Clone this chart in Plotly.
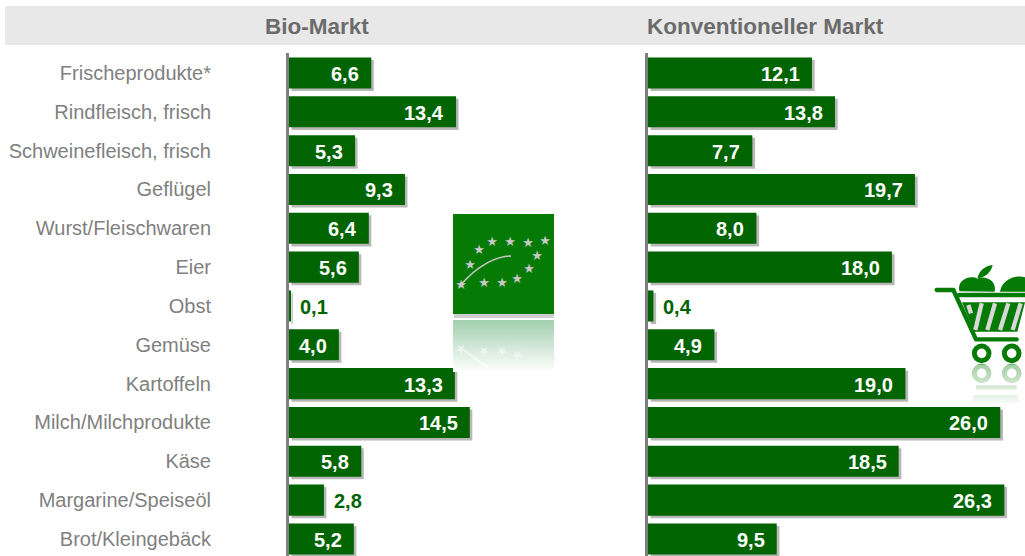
import base64
import plotly.graph_objects as go

categories = ["Frischeprodukte*", "Rindfleisch, frisch", "Schweinefleisch, frisch", "Geflügel",
              "Wurst/Fleischwaren", "Eier", "Obst", "Gemüse", "Kartoffeln",
              "Milch/Milchprodukte", "Käse", "Margarine/Speiseöl", "Brot/Kleingebäck"]
bio_values = [6.6, 13.4, 5.3, 9.3, 6.4, 5.6, 0.1, 4.0, 13.3, 14.5, 5.8, 2.8, 5.2]
conv_values = [12.1, 13.8, 7.7, 19.7, 8.0, 18.0, 0.4, 4.9, 19.0, 26.0, 18.5, 26.3, 9.5]
titles = ["Bio-Markt", "Konventioneller Markt"]

W, H = 1025, 556
GREEN = "#006400"
FONT = "Liberation Sans Narrow, Arial Narrow, Liberation Sans, sans-serif"


def uri(svg):
    return "data:image/svg+xml;base64," + base64.b64encode(svg.encode()).decode()


def star(x, y, r=5.0, c="#c8c8c8"):
    return f'<text x="{x}" y="{y + r * 0.75}" font-size="{r * 2.6}" text-anchor="middle" fill="{c}" font-family="DejaVu Sans">★</text>'


star_pos = [(92, 27), (75, 29), (57, 28), (39, 28), (26, 36), (17, 51), (8, 71),
            (31, 69), (49, 69), (64, 65), (76, 55), (84, 42)]
leaf = "".join(star(x, y) for x, y in star_pos) + \
    '<path d="M6,73 C25,50 45,42 58,42" fill="none" stroke="#c8c8c8" stroke-width="1.6"/>'
logo_svg = f'''<svg xmlns="http://www.w3.org/2000/svg" width="101" height="165" viewBox="0 0 101 165">
<defs><linearGradient id="g" x1="0" y1="0" x2="0" y2="1"><stop offset="0" stop-color="#fff" stop-opacity=".45"/>
<stop offset="1" stop-color="#fff" stop-opacity="1"/></linearGradient></defs>
<rect x="1" y="99" width="100" height="5" fill="#cfcfcf"/>
<rect x="0" y="0" width="101" height="100" fill="#057a05"/>{leaf}
<g transform="translate(0,206) scale(1,-1)"><rect x="0" y="50" width="101" height="50" fill="#1d8a3a" opacity=".75"/>
<g opacity=".5"><path d="M6,73 C25,60 30,55 40,50" fill="none" stroke="#fff" stroke-width="2"/>{"".join(star(x, y, c="#fff") for x, y in star_pos[6:10])}</g></g>
<rect x="0" y="106" width="101" height="52" fill="url(#g)"/>
</svg>'''

cart_shape = '''<path d="M110,120 H160 L228,268 H350 M178,135 H375" fill="none" stroke="#057a05" stroke-width="13" stroke-linecap="round" stroke-linejoin="round"/>
<path d="M186,157 H375 L352,245 H222 Z" fill="#057a05"/>
<g stroke="#d8d8d8" stroke-width="13"><path d="M205,165 L213,190"/><path d="M245,160 L226,240"/><path d="M285,160 L262,240"/><path d="M325,160 L300,240"/><path d="M362,160 L338,240"/></g>
<circle cx="245" cy="310" r="22" fill="#fff" stroke="#057a05" stroke-width="15"/>
<circle cx="335" cy="310" r="22" fill="#fff" stroke="#057a05" stroke-width="15"/>'''
fruit = '''<path d="M178,124 C170,85 215,75 232,86 C250,75 292,88 284,125 Z" fill="#057a05"/>
<path d="M232,85 C238,60 255,48 278,45 C272,70 255,82 232,85 Z" fill="#057a05"/>
<path d="M300,125 C305,90 345,72 375,82 V125 Z" fill="#057a05"/>'''
cart_svg = f'''<svg xmlns="http://www.w3.org/2000/svg" width="125" height="170" viewBox="0 0 375 510">
<defs><linearGradient id="f" x1="0" y1="0" x2="0" y2="1"><stop offset="0" stop-color="#fff" stop-opacity=".35"/>
<stop offset="1" stop-color="#fff" stop-opacity="1"/></linearGradient></defs>
{fruit}{cart_shape}
<g transform="translate(0,680) scale(1,-1)" opacity=".55"><path d="M228,268 H350" stroke="#057a05" stroke-width="13"/>
<circle cx="245" cy="310" r="22" fill="#fff" stroke="#057a05" stroke-width="15"/>
<circle cx="335" cy="310" r="22" fill="#fff" stroke="#057a05" stroke-width="15"/>
<path d="M186,157 H375 L352,245 H222 Z" fill="#057a05"/></g>
<rect x="200" y="345" width="175" height="125" fill="url(#f)"/>
<rect x="200" y="460" width="175" height="50" fill="#fff"/>
</svg>'''

fig = go.Figure()
panels = [("x", "y", bio_values), ("x2", "y2", conv_values)]
for xa, ya, vals in panels:
    fig.add_bar(x=vals, y=categories, orientation="h", xaxis=xa, yaxis=ya, base=0.2,
                width=0.8, offset=-0.335, marker=dict(color="rgba(0,0,0,0.28)", line_width=0),
                hoverinfo="skip", showlegend=False)
    fig.add_bar(x=vals, y=categories, orientation="h", xaxis=xa, yaxis=ya,
                width=0.8, offset=-0.4, marker=dict(color=GREEN, line_width=0), showlegend=False)

annotations = []
for xa, ya, vals in panels:
    for c, v in zip(categories, vals):
        inside = v >= 3
        annotations.append(dict(x=v, y=c, xref=xa, yref=ya, text=f"{v:.1f}".replace(".", ","),
                                showarrow=False, xanchor="right" if inside else "left",
                                xshift=-10 if inside else 8, yshift=-1,
                                font=dict(family=FONT, size=20, color="#ffffff" if inside else GREEN,
                                          weight="bold")))
for t, cx in zip(titles, [316.5, 765.5]):
    annotations.append(dict(x=cx / W, y=1 - 26 / H, xref="paper", yref="paper", text=t, showarrow=False,
                            xanchor="center", yanchor="middle",
                            font=dict(family=FONT, size=22.5, color="#6b6b6b", weight="bold")))

row_h = 38.83
y_range = [(H - 73) / row_h, -20 / row_h]
y_dom = [0, 1 - 53 / H]
common_y = dict(range=y_range, domain=y_dom, type="category", categoryorder="array", categoryarray=categories,
                showgrid=False, zeroline=False, showline=True, linecolor="#7f7f7f", linewidth=3, ticks="")
fig.update_layout(
    width=W, height=H, margin=dict(l=0, r=0, t=0, b=0), autosize=False,
    paper_bgcolor="white", plot_bgcolor="rgba(0,0,0,0)", barmode="overlay",
    xaxis=dict(domain=[289 / W, 640 / W], range=[0, 351 / 12.47], visible=False),
    xaxis2=dict(domain=[648 / W, 1], range=[0, 377 / 13.55], visible=False),
    yaxis=dict(anchor="x", ticklabelstandoff=71, tickfont=dict(family=FONT, size=20, color="#808080"), **common_y),
    yaxis2=dict(anchor="x2", showticklabels=False, **common_y),
    annotations=annotations,
    shapes=[dict(type="rect", xref="paper", yref="paper", x0=5 / W, x1=1, y0=1 - 45 / H, y1=1 - 6 / H,
                 fillcolor="#e8e8e8", line_width=0, layer="below")],
    images=[
        dict(source=uri(logo_svg), xref="paper", yref="paper", x=453 / W, y=1 - 214 / H, sizex=101 / W,
             sizey=165 / H, xanchor="left", yanchor="top", sizing="stretch", layer="above"),
        dict(source=uri(cart_svg), xref="paper", yref="paper", x=900 / W, y=1 - 250 / H, sizex=125 / W,
             sizey=170 / H, xanchor="left", yanchor="top", sizing="stretch", layer="below"),
    ],
)
fig.write_html("out.html", config=dict(displayModeBar=False),
               post_script="document.body.style.margin='0';document.documentElement.style.overflow='hidden';")
